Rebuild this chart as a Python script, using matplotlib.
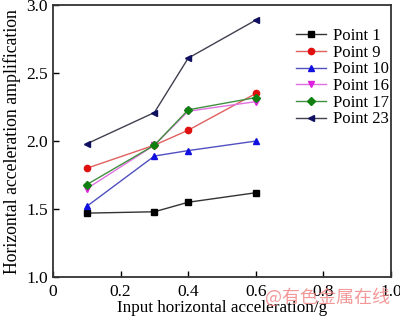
import matplotlib
matplotlib.use('Agg')
import matplotlib.pyplot as plt

plt.rcParams['font.family'] = ['Liberation Serif', 'DejaVu Serif']

# data
accel = [0.1, 0.3, 0.4, 0.6]
point1 = [1.47, 1.48, 1.55, 1.62]
point9 = [1.80, 1.97, 2.08, 2.35]
point10 = [1.52, 1.89, 1.93, 2.00]
point16 = [1.65, 1.97, 2.22, 2.29]
point17 = [1.68, 1.97, 2.23, 2.32]
point23 = [1.98, 2.21, 2.61, 2.89]

series = [
    ('Point 1', point1, 's', 'black', '#333333'),
    ('Point 9', point9, 'o', '#e01010', '#e06060'),
    ('Point 10', point10, '^', '#1010e0', '#5050c0'),
    ('Point 16', point16, 'v', '#e020e0', '#e070e0'),
    ('Point 17', point17, 'D', '#108010', '#409040'),
    ('Point 23', point23, '<', '#101060', '#404050'),
]

fig = plt.figure(figsize=(4, 3.21), dpi=100)
ax = fig.add_axes([0.1325, 0.137, 0.845, 0.847])

for label, vals, marker, mcolor, lcolor in series:
    ms = 4.5 if marker != 'D' else 4
    ax.plot(accel, vals, color=lcolor, lw=1.0, marker=marker, ms=ms,
            mfc=mcolor, mec=mcolor, label=label)

ax.set_xlim(0, 1.0)
ax.set_ylim(1.0, 3.0)
ax.set_xticks([0, 0.2, 0.4, 0.6, 0.8, 1.0])
ax.set_xticklabels(['0', '0.2', '0.4', '0.6', '0.8', '1.0'])
ax.set_yticks([1.0, 1.5, 2.0, 2.5, 3.0])
ax.tick_params(direction='in', length=4, width=1, labelsize=12.5)
ax.tick_params(axis='x', pad=5)
ax.tick_params(axis='y', pad=3.5)
for s in ax.spines.values():
    s.set_linewidth(1.3)
    s.set_color('#333333')

ax.set_xlabel('Input horizontal acceleration/g', fontsize=12.3, labelpad=0)
ax.set_ylabel('Horizontal acceleration amplification', fontsize=12.8, labelpad=4)

ax.legend(loc='upper left', bbox_to_anchor=(0.70, 0.94), frameon=False,
          fontsize=12, handlelength=1.8, handletextpad=0.4,
          labelspacing=0.04, borderaxespad=0)

# watermark, as in the reference
fig.text(0.975, 0.075, '@有色金属在线', color='#f08080', fontsize=13, alpha=0.8,
         ha='right', va='center', family=['Noto Sans CJK SC', 'DejaVu Sans'])

fig.savefig('out.png', dpi=100)
